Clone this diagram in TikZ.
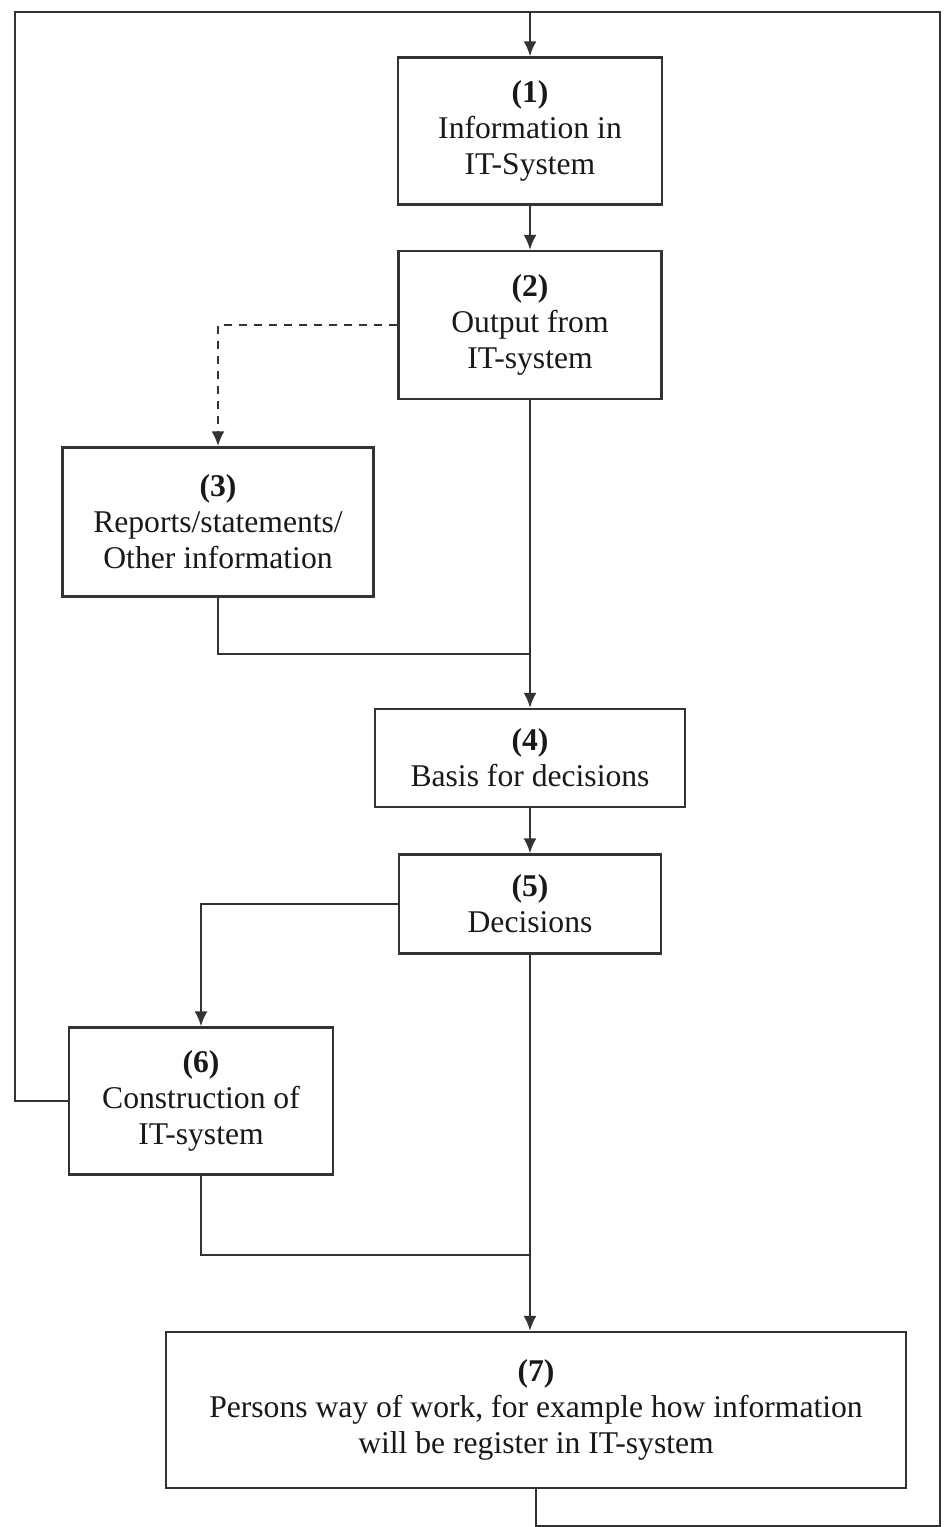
\documentclass[tikz,border=0pt]{standalone}
\usepackage{fontspec}
\setmainfont{Liberation Serif}
\usetikzlibrary{arrows.meta,positioning}
\definecolor{ink}{rgb}{.2,.2,.2}

\begin{document}
\begin{tikzpicture}[% coordinates are read in pixels of the scanned page
			x=0.02cm, y=-0.02cm,
			every node/.style={
				align=center,  		% so that "\\" breaks the line
				font=\fontsize{18}{20.5}\selectfont,
				text=black!90
			},
			stage/.style={
				rectangle,draw=ink,line width=1.3pt,fill=white,
				inner sep=0pt
			},
			every edge/.style={draw=ink,line width=1.3pt},
			flow/.style={draw=ink,line width=1.3pt},
			>={Latex[length=3mm,width=2.6mm]}
		]
		\useasboundingbox (0,0) rectangle (947,1527);
		% the boxes
		\node[stage,minimum width=5.28cm,minimum height=2.94cm](B1) at (530,131){\textbf{(1)}\\ Information in\\ IT-System};
		\node[stage,minimum width=5.26cm,minimum height=2.96cm](B2) at (530,325){\textbf{(2)}\\ Output from\\ IT-system};
		\node[stage,minimum width=6.22cm,minimum height=2.98cm](B3) at (218,522){\textbf{(3)}\\ Reports/statements/\\ Other information};
		\node[stage,minimum width=6.20cm,minimum height=1.96cm](B4) at (530,758){\textbf{(4)}\\ Basis for decisions};
		\node[stage,minimum width=5.24cm,minimum height=1.98cm](B5) at (530,904){\textbf{(5)}\\ Decisions};
		\node[stage,minimum width=5.28cm,minimum height=2.94cm](B6) at (201,1101){\textbf{(6)}\\ Construction of\\ IT-system};
		\node[stage,minimum width=14.80cm,minimum height=3.12cm](B7) at (536,1410){\textbf{(7)}\\ Persons way of work, for example how information\\ will be register in IT-system};
		% corners of the feedback loop and the two joins
		\coordinate (loopTL) at (15,12);
		\coordinate (loopTR) at (940,12);
		\coordinate (loopBR) at (940,1526);
		\coordinate (join3) at (530,654);
		\coordinate (join6) at (530,1255);
		\path[->]
		(B1)edge (B2)
		(B2)edge (B4)
		(B4)edge (B5)
		(B5.south)edge (B5.south |- B7.north)
		;
		\draw[flow,->,dashed,line width=1.6pt,dash pattern=on 1.6mm off 1.4mm] (B2.west) -| (B3.north);
		\draw[flow] (B3.south) |- (join3);
		\draw[flow,->] (B5.west) -| (B6.north);
		\draw[flow] (B6.south) |- (join6);
		\draw[flow,->] (B7.south) |- (loopBR) -- (loopTR) -| (B1.north);
		\draw[flow] (B6.west) -| (loopTL) -- (B1.north |- loopTL);
	\end{tikzpicture}
\end{document}
